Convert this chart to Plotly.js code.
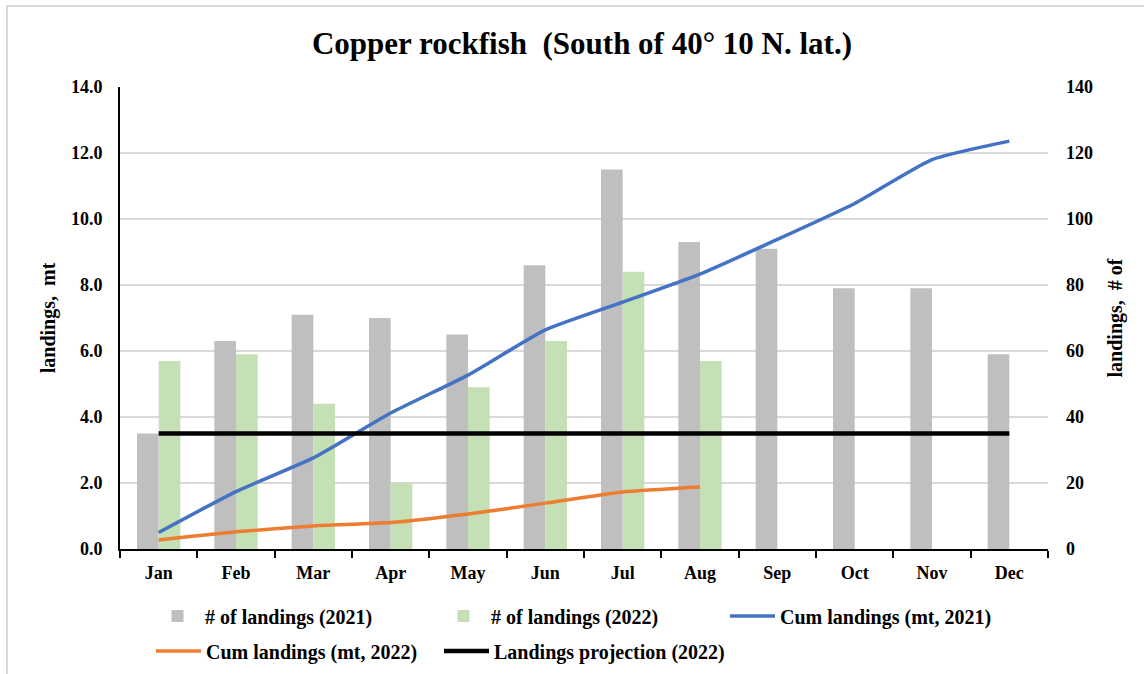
<!DOCTYPE html>
<html><head><meta charset="utf-8">
<script src="https://cdn.plot.ly/plotly-3.0.1.min.js"></script>
<style>
html,body{margin:0;padding:0;background:#fff;}
#chart{width:1144px;height:674px;}
#frame{position:absolute;left:6px;top:5px;width:1150px;height:700px;border-left:2px solid #d9d9d9;border-top:2px solid #d9d9d9;pointer-events:none;}
</style></head>
<body><div id="chart"></div><div id="frame"></div>
<script>
const months = ["Jan","Feb","Mar","Apr","May","Jun","Jul","Aug","Sep","Oct","Nov","Dec"];
const months2022 = ["Jan","Feb","Mar","Apr","May","Jun","Jul","Aug"];
const landings2021 = [35,63,71,70,65,86,115,93,91,79,79,59];
const landings2022 = [57,59,44,20,49,63,84,57];
const cum2021 = [0.5,1.74,2.76,4.12,5.27,6.64,7.48,8.33,9.38,10.47,11.8,12.36];
const cum2022 = [0.27,0.52,0.7,0.8,1.06,1.39,1.73,1.88];
const projection2022 = [3.5,3.5,3.5,3.5,3.5,3.5,3.5,3.5,3.5,3.5,3.5,3.5];
const mtTicks = [0,2,4,6,8,10,12,14];
const countTicks = [0,20,40,60,80,100,120,140];

const FONT = "'Liberation Serif','Times New Roman',serif";
const traces = [
  {type:'bar', name:'# of landings (2021)', x:months, y:landings2021, yaxis:'y', marker:{color:'#bfbfbf'}, legend:'legend'},
  {type:'bar', name:'# of landings (2022)', x:months2022, y:landings2022, yaxis:'y', marker:{color:'#c5e0b4'}, legend:'legend2'},
  {type:'scatter', mode:'lines', name:'Cum landings (mt, 2021)', x:months, y:cum2021, yaxis:'y2', line:{color:'#4472c4', width:3.5, shape:'spline', smoothing:0.5}, legend:'legend3'},
  {type:'scatter', mode:'lines', name:'Cum landings (mt, 2022)', x:months2022, y:cum2022, yaxis:'y2', line:{color:'#ed7d31', width:3.5, shape:'spline', smoothing:0.5}, legend:'legend4'},
  {type:'scatter', mode:'lines', name:'Landings projection (2022)', x:months, y:projection2022, yaxis:'y2', line:{color:'#000000', width:4.5}, legend:'legend5'}
];

const W = 1144, H = 674;
function leg(textStartPx, rowCenterPx) {
  return {orientation:'h', xref:'container', yref:'container', xanchor:'left', yanchor:'middle', itemwidth:45,
    x:(textStartPx - 55)/W, y:1 - rowCenterPx/H,
    font:{family:FONT, size:20, color:'#000', weight:'bold'}, bgcolor:'rgba(0,0,0,0)'};
}

const layout = {
  width:W, height:H,
  margin:{l:120, r:96, t:87, b:125},
  paper_bgcolor:'#fff', plot_bgcolor:'#fff',
  font:{family:FONT, color:'#000', weight:'bold'},
  title:{text:'Copper rockfish  (South of 40° 10 N. lat.)', xref:'container', x:582/W, xanchor:'center', yref:'container', y:1-43/H, yanchor:'middle',
    font:{family:FONT, size:31, color:'#000', weight:'bold'}},
  barmode:'group', bargap:0.44, bargroupgap:0,
  xaxis:{type:'category', categoryorder:'array', categoryarray:months, showline:true, linecolor:'#000', linewidth:2,
    ticks:'outside', tickson:'boundaries', ticklen:7, tickwidth:2, tickcolor:'#000', ticklabelstandoff:6,
    tickfont:{family:FONT, size:18, color:'#000', weight:'bold'}, showgrid:false, fixedrange:true},
  yaxis:{side:'right', range:[0,140], tickvals:countTicks, ticktext:countTicks.map(String), showgrid:true, gridcolor:'#d9d9d9', gridwidth:1.5,
    showline:false, zeroline:false, ticks:'', ticklabelstandoff:17,
    tickfont:{family:FONT, size:18, color:'#000', weight:'bold'},
    title:{text:'landings,  # of', standoff:15, font:{family:FONT, size:20, color:'#000', weight:'bold'}}},
  yaxis2:{side:'left', overlaying:'y', range:[0,14], tickvals:mtTicks, ticktext:mtTicks.map(v=>v.toFixed(1)), showgrid:false,
    showline:true, linecolor:'#000', linewidth:2, zeroline:false, ticks:'', ticklabelstandoff:12,
    tickfont:{family:FONT, size:18, color:'#000', weight:'bold'},
    title:{text:'landings,  mt', standoff:10, font:{family:FONT, size:20, color:'#000', weight:'bold'}}},
  legend: leg(205, 616),
  legend2: leg(491, 616),
  legend3: leg(780, 616),
  legend4: leg(206, 651),
  legend5: leg(494, 651),
  showlegend:true
};

Plotly.newPlot('chart', traces, layout, {displayModeBar:false, staticPlot:true});
</script>
</body></html>
